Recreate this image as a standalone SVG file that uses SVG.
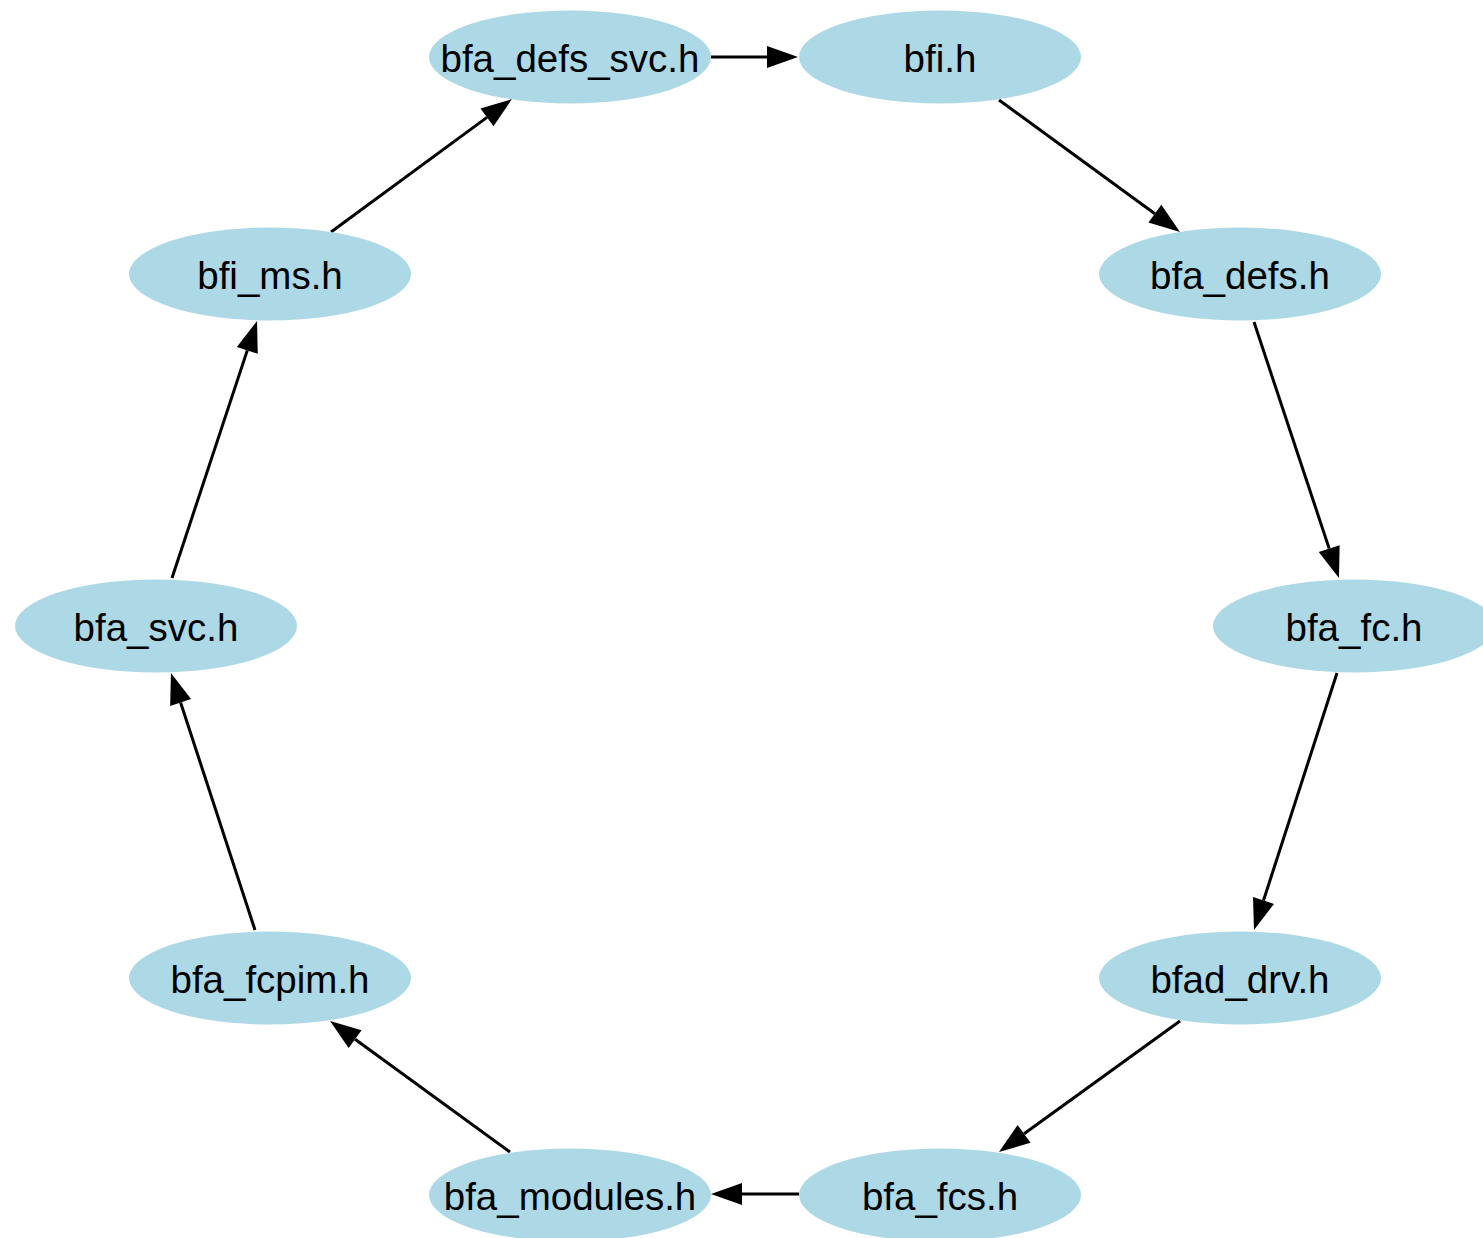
<svg xmlns="http://www.w3.org/2000/svg" width="1483" height="1238" viewBox="0 0 1483 1238">
  <style>
    .node ellipse { fill: #add8e6; stroke: none; }
    .node text { font-family: "Liberation Sans", Arial, sans-serif; font-size: 38.5px; fill: #000; text-anchor: middle; }
    .edge { fill: none; stroke: #000; stroke-width: 3; marker-end: url(#arrow); }
  </style>
  <defs>
    <marker id="arrow" markerUnits="userSpaceOnUse" markerWidth="32" markerHeight="24" refX="0" refY="0" viewBox="0 -12 32 24" orient="auto" overflow="visible">
      <path d="M0,-11 L31,0 L0,11 Z" fill="#000"/>
    </marker>
  </defs>
  <rect width="1483" height="1238" fill="#fff"/>

  <!-- include edges around the ring -->
  <g id="edges">
    <path class="edge" d="M711,57 L767,57"/>
    <path class="edge" d="M999,100 L1154.9,213.7"/>
    <path class="edge" d="M1254,322 L1329.2,548.6"/>
    <path class="edge" d="M1337,673 L1263.5,900.5"/>
    <path class="edge" d="M1180,1021 L1024.1,1133.8"/>
    <path class="edge" d="M799,1194 L742,1194"/>
    <path class="edge" d="M510,1152 L355.1,1039.2"/>
    <path class="edge" d="M255,930 L180.6,702.5"/>
    <path class="edge" d="M172,578 L247.3,350.4"/>
    <path class="edge" d="M331,232 L487,117.4"/>
  </g>

  <g id="bfa_defs_svc_h" class="node"><ellipse cx="570" cy="57" rx="141" ry="46.5"/><text x="570" y="71.5">bfa_defs_svc.h</text></g>
  <g id="bfi_h" class="node"><ellipse cx="940" cy="57" rx="141" ry="46.5"/><text x="940" y="71.5">bfi.h</text></g>
  <g id="bfa_defs_h" class="node"><ellipse cx="1240" cy="274" rx="141" ry="46.5"/><text x="1240" y="288.5">bfa_defs.h</text></g>
  <g id="bfa_fc_h" class="node"><ellipse cx="1354" cy="626" rx="141" ry="46.5"/><text x="1354" y="640.5">bfa_fc.h</text></g>
  <g id="bfad_drv_h" class="node"><ellipse cx="1240" cy="978" rx="141" ry="46.5"/><text x="1240" y="992.5">bfad_drv.h</text></g>
  <g id="bfa_fcs_h" class="node"><ellipse cx="940" cy="1195" rx="141" ry="46.5"/><text x="940" y="1209.5">bfa_fcs.h</text></g>
  <g id="bfa_modules_h" class="node"><ellipse cx="570" cy="1195" rx="141" ry="46.5"/><text x="570" y="1209.5">bfa_modules.h</text></g>
  <g id="bfa_fcpim_h" class="node"><ellipse cx="270" cy="978" rx="141" ry="46.5"/><text x="270" y="992.5">bfa_fcpim.h</text></g>
  <g id="bfa_svc_h" class="node"><ellipse cx="156" cy="626" rx="141" ry="46.5"/><text x="156" y="640.5">bfa_svc.h</text></g>
  <g id="bfi_ms_h" class="node"><ellipse cx="270" cy="274" rx="141" ry="46.5"/><text x="270" y="288.5">bfi_ms.h</text></g>
</svg>
